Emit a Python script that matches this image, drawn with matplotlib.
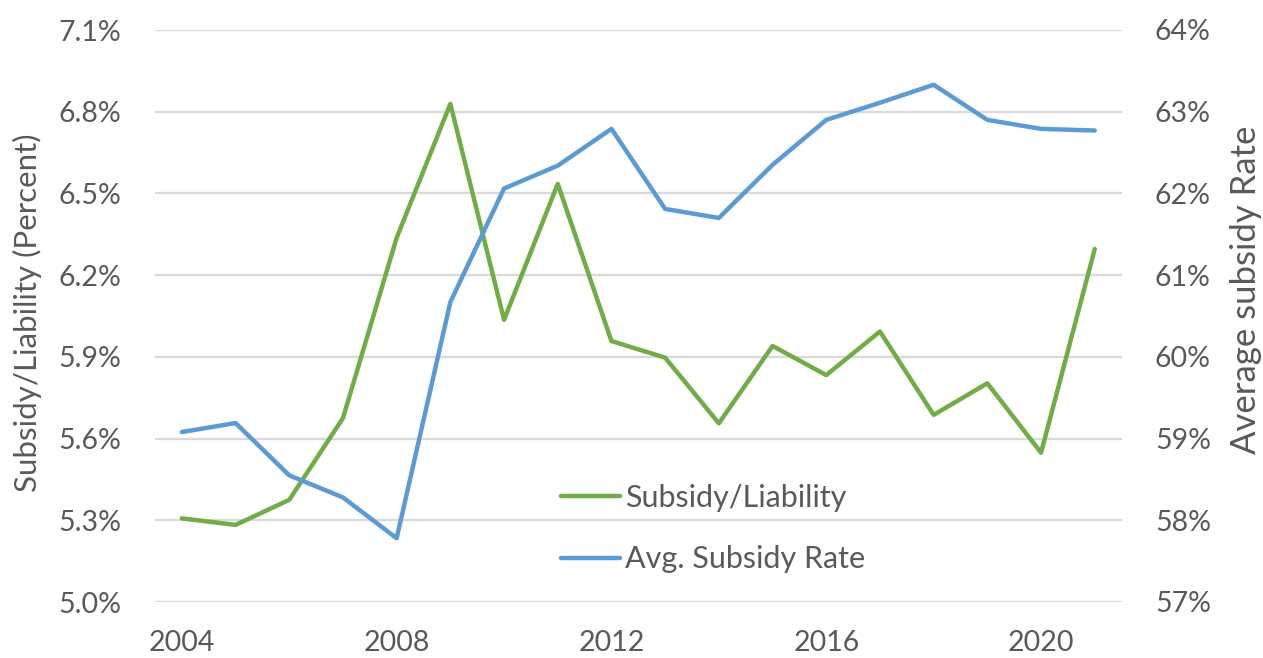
import matplotlib
matplotlib.use("Agg")
import matplotlib.pyplot as plt
from matplotlib.ticker import FixedLocator, FuncFormatter

years = list(range(2004, 2022))
subsidy_liability = [5.307, 5.283, 5.375, 5.675, 6.337, 6.829, 6.036, 6.535, 5.958,
                     5.897, 5.656, 5.940, 5.833, 5.993, 5.687, 5.803, 5.548, 6.296]
avg_subsidy_rate = [59.08, 59.19, 58.55, 58.28, 57.78, 60.67, 62.06, 62.34, 62.79,
                    61.81, 61.70, 62.35, 62.90, 63.11, 63.33, 62.90, 62.79, 62.77]

left_ticks = [5.0, 5.3, 5.6, 5.9, 6.2, 6.5, 6.8, 7.1]
right_ticks = [57, 58, 59, 60, 61, 62, 63, 64]
x_ticks = [2004, 2008, 2012, 2016, 2020]

GREEN = "#70AD47"
BLUE = "#5B9BD5"
TEXT = "#595959"
GRID = "#D9D9D9"

plt.rcParams["font.family"] = ["Lato", "DejaVu Sans"]

fig = plt.figure(figsize=(12.63, 6.58), dpi=100)
ax = fig.add_axes([155 / 1263, 56 / 658, 966.6 / 1263, 572 / 658])
ax2 = ax.twinx()

l1, = ax.plot(years, subsidy_liability, color=GREEN, linewidth=3.2,
              solid_capstyle="round", solid_joinstyle="round", label="Subsidy/Liability")
l2, = ax2.plot(years, avg_subsidy_rate, color=BLUE, linewidth=3.2,
               solid_capstyle="round", solid_joinstyle="round", label="Avg. Subsidy Rate")

ax.set_xlim(2003.5, 2021.5)
ax.set_ylim(5.0, 7.1)
ax2.set_ylim(57, 64)

ax.yaxis.set_major_locator(FixedLocator(left_ticks))
ax.yaxis.set_major_formatter(FuncFormatter(lambda v, p: f"{v:.1f}%"))
ax2.yaxis.set_major_locator(FixedLocator(right_ticks))
ax2.yaxis.set_major_formatter(FuncFormatter(lambda v, p: f"{v:.0f}%"))
ax.set_xticks(x_ticks)

ax.grid(axis="y", color=GRID, linewidth=1.6)
ax.set_axisbelow(True)
for a in (ax, ax2):
    for s in a.spines.values():
        s.set_visible(False)

ax.tick_params(axis="both", length=0, labelsize=20.5, labelcolor=TEXT)
ax.tick_params(axis="y", pad=24)
ax.tick_params(axis="x", pad=20)
ax2.tick_params(axis="y", length=0, labelsize=20.5, labelcolor=TEXT, pad=24)

ax.set_ylabel("Subsidy/Liability (Percent)", fontsize=22.5, color=TEXT)
ax.yaxis.set_label_coords(-0.117, 0.505)
ax2.set_ylabel("Average subsidy Rate", fontsize=25, color=TEXT, rotation=90)
ax2.yaxis.set_label_coords(1.112, 0.5455)

leg = fig.legend(handles=[l1, l2], loc="upper left", bbox_to_anchor=(561 / 1263, 1 - 484 / 658),
                 frameon=False, fontsize=22, labelcolor=TEXT, handlelength=1.93,
                 handletextpad=0.16, labelspacing=1.09, borderpad=0, borderaxespad=0)

fig.savefig("out.png", dpi=100)
